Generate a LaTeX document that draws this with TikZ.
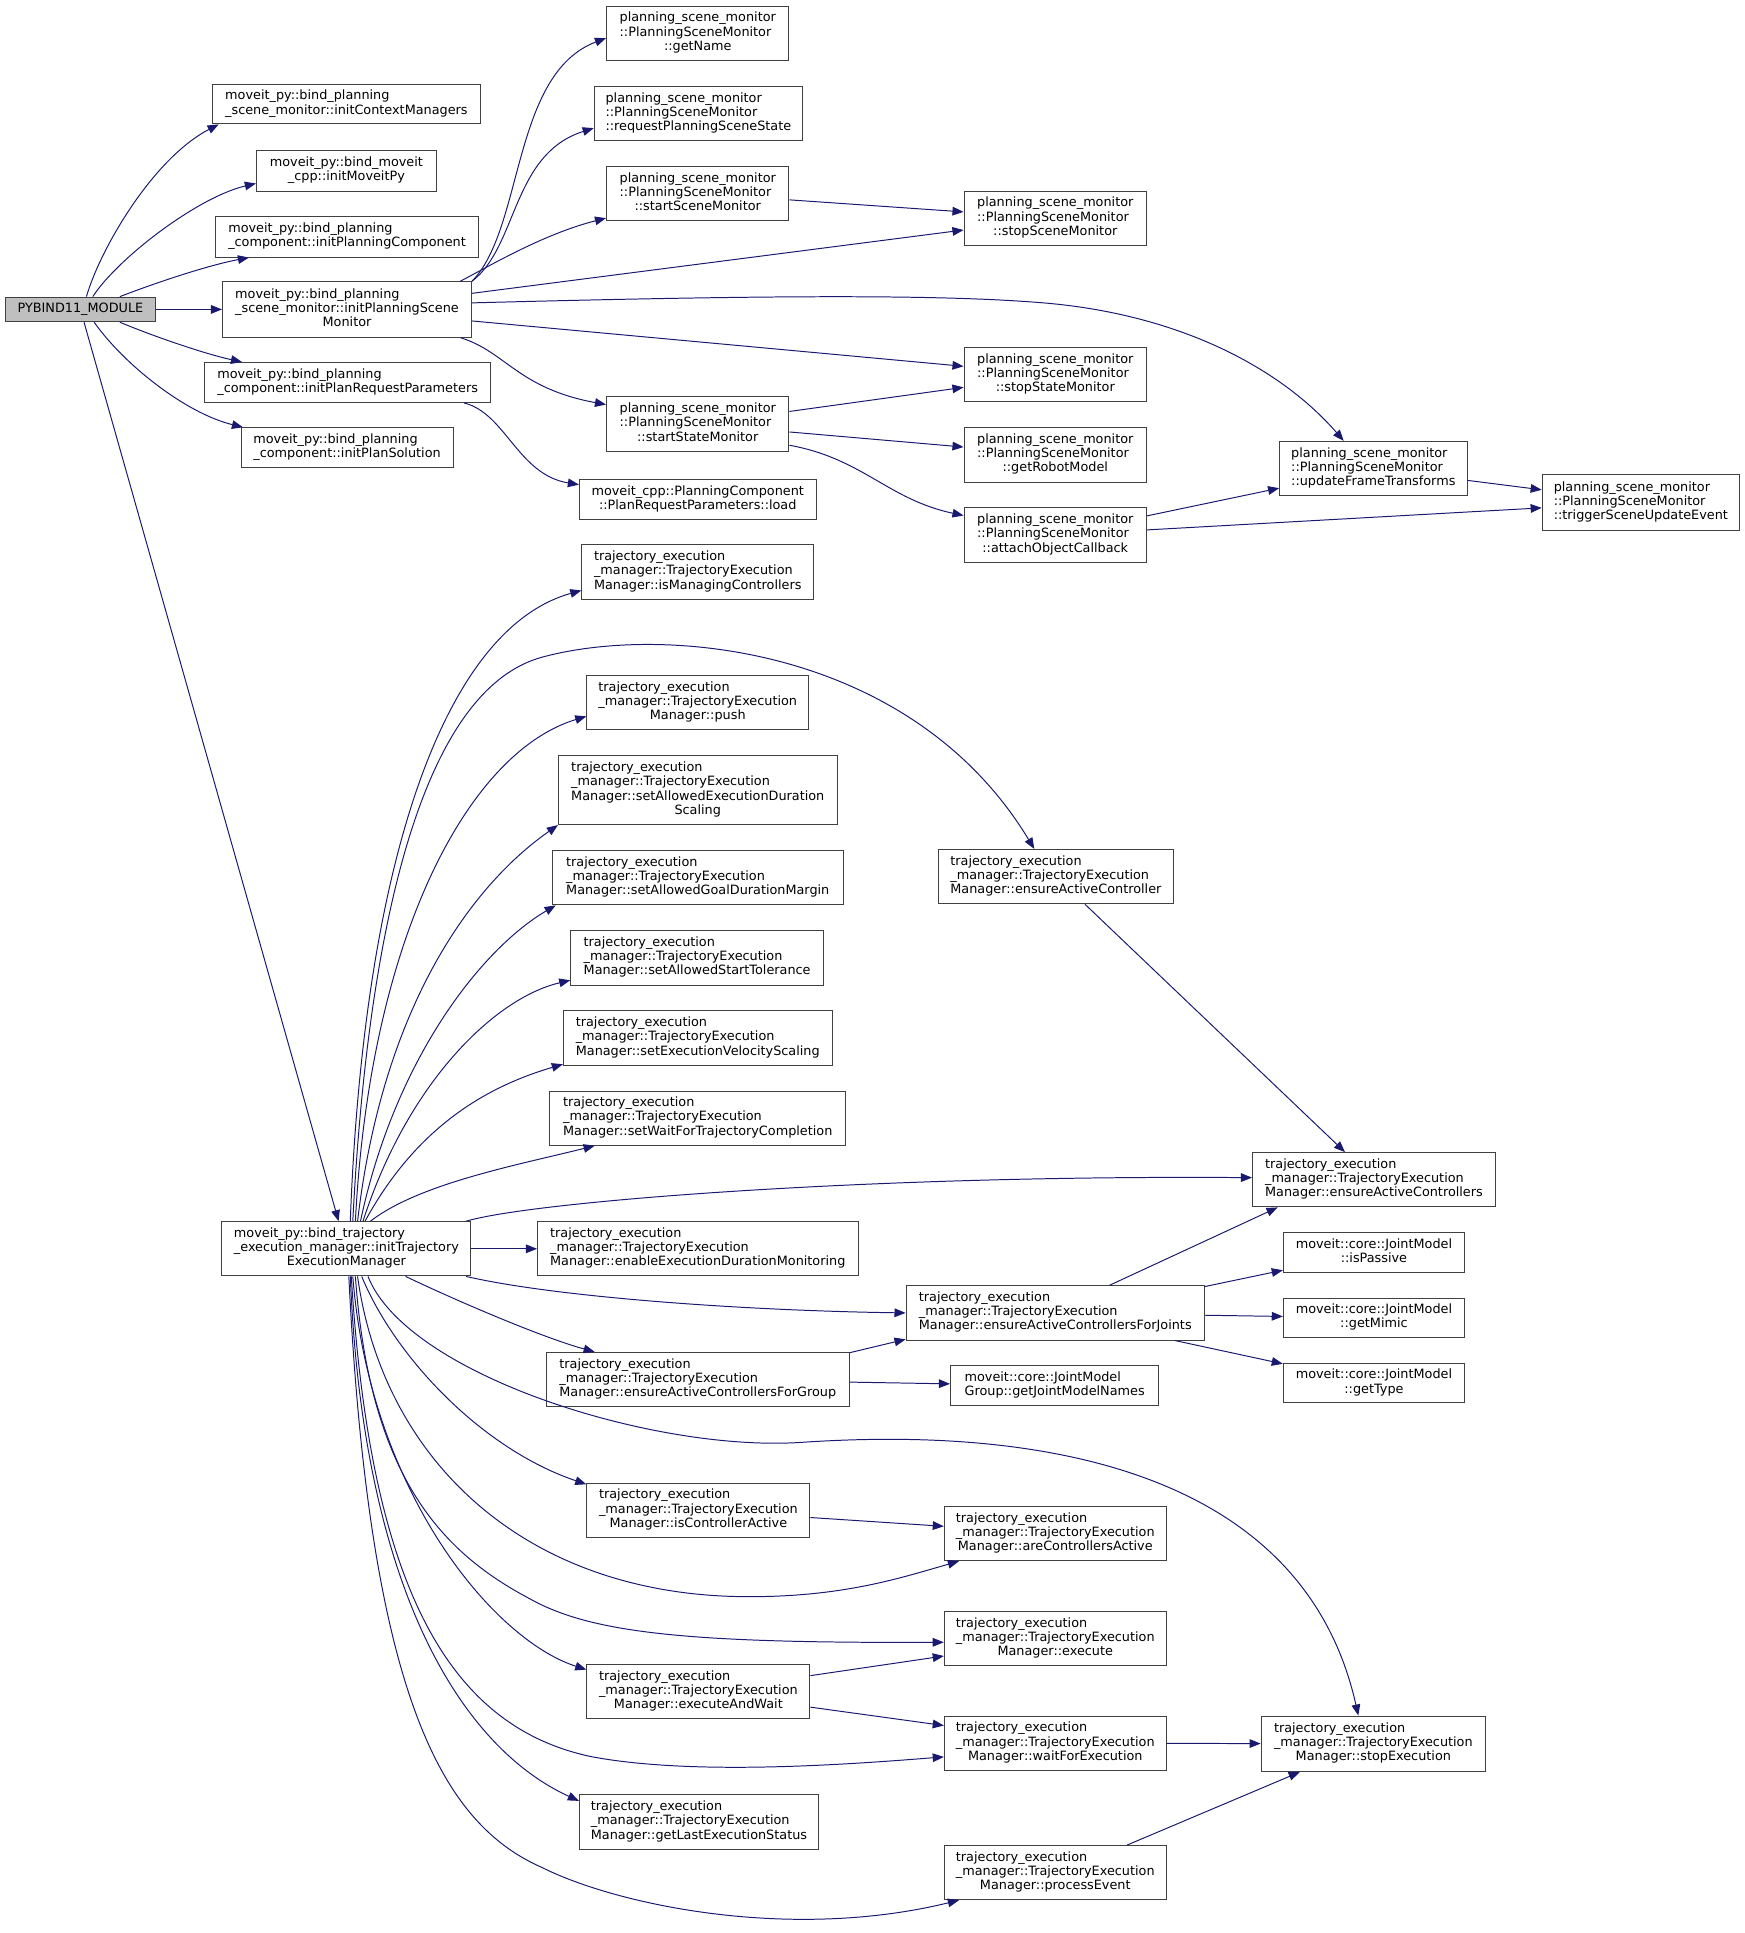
\documentclass[tikz,border=0pt]{standalone}
\usepackage{fontspec}
\setmainfont{DejaVu Sans}
\usetikzlibrary{arrows.meta}

\definecolor{edgeblue}{HTML}{191970}
\definecolor{boxline}{HTML}{404040}
\definecolor{rootgray}{HTML}{BFBFBF}

% graphviz style labels: lines left aligned, last line centred
\newcommand{\lbltwo}[2]{\begin{tabular}{@{}l@{}}#1\\\multicolumn{1}{@{}c@{}}{#2}\end{tabular}}
\newcommand{\lblthree}[3]{\begin{tabular}{@{}l@{}}#1\\#2\\\multicolumn{1}{@{}c@{}}{#3}\end{tabular}}
\newcommand{\lblfour}[4]{\begin{tabular}{@{}l@{}}#1\\#2\\#3\\\multicolumn{1}{@{}c@{}}{#4}\end{tabular}}
\newcommand{\psmlbl}[1]{\lblthree{planning\_scene\_monitor}{::PlanningSceneMonitor}{::#1}}
\newcommand{\temlbl}[1]{\lblthree{trajectory\_execution}{\_manager::TrajectoryExecution}{Manager::#1}}

\tikzset{
  fn/.style 2 args={draw=boxline, line width=0.8pt, fill=white, inner sep=0pt,
    minimum width=#1pt, minimum height=#2pt, font=\fontsize{10.4}{11.5}\selectfont},
  call/.style={draw=edgeblue, line width=0.8pt, -{Triangle[length=9pt,width=7pt]}},
}

\begin{document}
\begin{tikzpicture}[x=1pt,y=-1pt]
  \useasboundingbox (0,0) rectangle (1415,1568);

  \node[fn={122}{20}, fill=rootgray] (root) at (65.25,251) {PYBIND11\_MODULE};

  \node[fn={218}{32}] (ctx) at (281,84.5) {\lbltwo{moveit\_py::bind\_planning}{\_scene\_monitor::initContextManagers}};
  \node[fn={146}{33}] (mpy) at (281,138.5) {\lbltwo{moveit\_py::bind\_moveit}{\_cpp::initMoveitPy}};
  \node[fn={213}{33}] (pc) at (281.5,192) {\lbltwo{moveit\_py::bind\_planning}{\_component::initPlanningComponent}};
  \node[fn={202}{45}] (psm) at (281.5,251) {\lblthree{moveit\_py::bind\_planning}{\_scene\_monitor::initPlanningScene}{Monitor}};
  \node[fn={232}{32.5}] (prp) at (282,310.25) {\lbltwo{moveit\_py::bind\_planning}{\_component::initPlanRequestParameters}};
  \node[fn={172}{32}] (ps) at (281.5,363) {\lbltwo{moveit\_py::bind\_planning}{\_component::initPlanSolution}};

  \node[fn={148}{44}] (getName) at (566,27) {\psmlbl{getName}};
  \node[fn={169}{44}] (reqPSS) at (566.5,92) {\psmlbl{requestPlanningSceneState}};
  \node[fn={148}{44}] (startScene) at (566,157) {\psmlbl{startSceneMonitor}};
  \node[fn={148}{44}] (startState) at (566,344) {\psmlbl{startStateMonitor}};
  \node[fn={192}{32}] (prpLoad) at (566,405) {\lbltwo{moveit\_cpp::PlanningComponent}{::PlanRequestParameters::load}};

  \node[fn={148}{44}] (stopScene) at (856,177) {\psmlbl{stopSceneMonitor}};
  \node[fn={148}{44}] (stopState) at (856,304) {\psmlbl{stopStateMonitor}};
  \node[fn={148}{44}] (getRM) at (856,369) {\psmlbl{getRobotModel}};
  \node[fn={148}{44}] (attach) at (856,434) {\psmlbl{attachObjectCallback}};
  \node[fn={152}{44}] (updateFT) at (1114,380) {\psmlbl{updateFrameTransforms}};
  \node[fn={160}{45}] (trigger) at (1331,407.5) {\psmlbl{triggerSceneUpdateEvent}};

  \node[fn={202}{44}] (initTEM) at (281,1013) {\lblthree{moveit\_py::bind\_trajectory}{\_execution\_manager::initTrajectory}{ExecutionManager}};

  \node[fn={188}{44}] (isMan) at (566,464) {\temlbl{isManagingControllers}};
  \node[fn={180}{44}] (push) at (566,570) {\temlbl{push}};
  \node[fn={226}{56}] (setEDS) at (566,641) {\lblfour{trajectory\_execution}{\_manager::TrajectoryExecution}{Manager::setAllowedExecutionDuration}{Scaling}};
  \node[fn={236}{44}] (setGDM) at (566,712) {\temlbl{setAllowedGoalDurationMargin}};
  \node[fn={205}{44}] (setST) at (565.5,777) {\temlbl{setAllowedStartTolerance}};
  \node[fn={218}{44}] (setEVS) at (566,842) {\temlbl{setExecutionVelocityScaling}};
  \node[fn={240}{44}] (setWFTC) at (566,907) {\temlbl{setWaitForTrajectoryCompletion}};
  \node[fn={260}{44}] (enableEDM) at (566,1013) {\temlbl{enableExecutionDurationMonitoring}};
  \node[fn={246}{44}] (eacG) at (566,1119) {\temlbl{ensureActiveControllersForGroup}};
  \node[fn={181}{44}] (isCA) at (566.5,1225) {\temlbl{isControllerActive}};
  \node[fn={181}{44}] (execAW) at (566.5,1372) {\temlbl{executeAndWait}};
  \node[fn={194}{44}] (getLES) at (567,1478) {\temlbl{getLastExecutionStatus}};

  \node[fn={191}{44}] (eac1) at (856.5,711) {\temlbl{ensureActiveController}};
  \node[fn={242}{44}] (eacJ) at (856,1065) {\temlbl{ensureActiveControllersForJoints}};
  \node[fn={169}{32}] (getJMN) at (855.5,1124) {\lbltwo{moveit::core::JointModel}{Group::getJointModelNames}};
  \node[fn={180}{44}] (areCA) at (856,1244) {\temlbl{areControllersActive}};
  \node[fn={180}{44}] (execute) at (856,1329) {\temlbl{execute}};
  \node[fn={180}{44}] (waitFE) at (856,1414) {\temlbl{waitForExecution}};
  \node[fn={180}{44}] (procE) at (856,1519) {\temlbl{processEvent}};

  \node[fn={197}{44}] (eacs) at (1114.5,957) {\temlbl{ensureActiveControllers}};
  \node[fn={147}{32}] (isPassive) at (1114.5,1016) {\lbltwo{moveit::core::JointModel}{::isPassive}};
  \node[fn={147}{32}] (getMimic) at (1114.5,1069) {\lbltwo{moveit::core::JointModel}{::getMimic}};
  \node[fn={147}{32}] (getType) at (1114.5,1122) {\lbltwo{moveit::core::JointModel}{::getType}};
  \node[fn={182}{45}] (stopExec) at (1114,1414.5) {\temlbl{stopExecution}};

  % module entry
  \draw[call] (root.65) .. controls (82,200) and (125,128) .. (ctx.189);
  \draw[call] (root.46) .. controls (95,210) and (160,160) .. (mpy.188);
  \draw[call] (root.18) .. controls (130,228) and (170,215) .. (pc.192);
  \draw[call] (root) -- (psm);
  \draw[call] (root.-18) .. controls (130,275) and (170,288) .. (prp.169);
  \draw[call] (root.-43) .. controls (100,295) and (150,335) .. (ps.169);
  \draw[call] (root) -- (initTEM);

  % planning scene monitor
  \draw[call] (psm.north east) .. controls (425,185) and (415,60) .. (getName.183);
  \draw[call] (psm.north east) .. controls (420,200) and (415,125) .. (reqPSS.188);
  \draw[call] (psm.14) .. controls (395,217) and (440,190) .. (startScene.195);
  \draw[call] (psm) -- (stopScene);
  \draw[call] (psm.3) .. controls (600,240) and (760,238) .. (850,246)
    .. controls (960,256) and (1040,300) .. (updateFT.137);
  \draw[call] (psm) -- (stopState);
  \draw[call] (psm.-14) .. controls (410,285) and (420,315) .. (startState.168);
  \draw[call] (prp.-10) .. controls (410,335) and (420,385) .. (prpLoad.173);

  \draw[call] (startScene) -- (stopScene);
  \draw[call] (startState) -- (stopState);
  \draw[call] (startState) -- (getRM);
  \draw[call] (startState.-13) .. controls (700,372) and (720,405) .. (attach.168);
  \draw[call] (attach) -- (updateFT);
  \draw[call] (attach) -- (trigger);
  \draw[call] (updateFT) -- (trigger);

  % trajectory execution manager
  \draw[call] (initTEM.82) .. controls (295,700) and (360,510) .. (isMan.189);
  \draw[call] (initTEM.77) .. controls (298,760) and (340,560) .. (440,533)
    .. controls (540,506) and (740,525) .. (eac1.128);
  \draw[call] (initTEM.72) .. controls (300,760) and (380,610) .. (push.187);
  \draw[call] (initTEM.68) .. controls (310,820) and (380,720) .. (setEDS.194);
  \draw[call] (initTEM.63) .. controls (320,860) and (390,770) .. (setGDM.191);
  \draw[call] (initTEM.59) .. controls (330,880) and (400,810) .. (setST.190);
  \draw[call] (initTEM.56) .. controls (340,910) and (400,880) .. (setEVS.191);
  \draw[call] (initTEM.49) .. controls (340,960) and (420,945) .. (setWFTC.195);
  \draw[call] (initTEM.13) .. controls (430,975) and (700,953) .. (eacs.179);
  \draw[call] (initTEM) -- (enableEDM);
  \draw[call] (initTEM.-13) .. controls (450,1052) and (600,1063) .. (eacJ.180);
  \draw[call] (initTEM.-25) .. controls (370,1055) and (440,1085) .. (eacG.165);
  \draw[call] (initTEM.-52) .. controls (330,1115) and (530,1178) .. (650,1170)
    .. controls (770,1162) and (1050,1160) .. (stopExec.118);
  \draw[call] (initTEM.-61) .. controls (320,1100) and (390,1175) .. (isCA.167);
  \draw[call] (initTEM.-68) .. controls (310,1180) and (420,1290) .. (595,1295)
    .. controls (680,1297) and (730,1280) .. (areCA.196);
  \draw[call] (initTEM.-72) .. controls (300,1200) and (360,1260) .. (430,1297)
    .. controls (480,1325) and (560,1333) .. (execute.182);
  \draw[call] (initTEM.-77) .. controls (300,1210) and (400,1330) .. (execAW.169);
  \draw[call] (initTEM.-80) .. controls (300,1280) and (360,1400) .. (480,1425)
    .. controls (560,1440) and (680,1432) .. (waitFE.187);
  \draw[call] (initTEM.-82) .. controls (295,1300) and (380,1420) .. (getLES.170);
  \draw[call] (initTEM.-85) .. controls (300,1380) and (360,1480) .. (440,1515)
    .. controls (500,1545) and (640,1575) .. (procE.196);

  \draw[call] (eac1) -- (eacs);
  \draw[call] (eacJ.27) -- (eacs.196);
  \draw[call] (eacJ.10) -- (isPassive.191);
  \draw[call] (eacJ) -- (getMimic);
  \draw[call] (eacJ.-13) -- (getType.168);
  \draw[call] (eacG.10) -- (eacJ.190);
  \draw[call] (eacG) -- (getJMN);
  \draw[call] (isCA) -- (areCA);
  \draw[call] (execAW.8) -- (execute.189);
  \draw[call] (execAW.-8) -- (waitFE.171);
  \draw[call] (waitFE) -- (stopExec);
  \draw[call] (procE.21) -- (stopExec.201);
\end{tikzpicture}
\end{document}
